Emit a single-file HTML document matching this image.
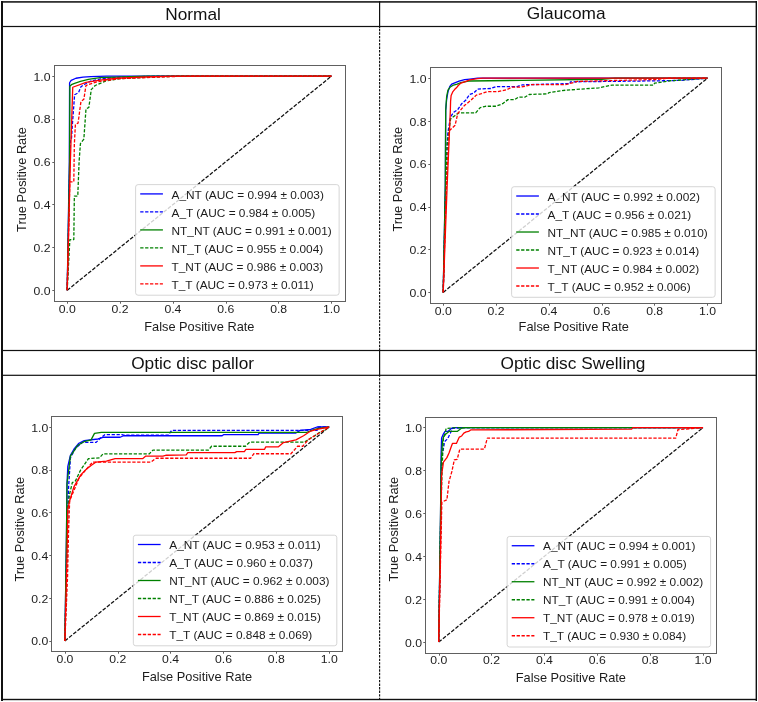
<!DOCTYPE html>
<html><head><meta charset="utf-8"><title>ROC curves</title>
<style>
html,body{margin:0;padding:0;background:#fff;width:758px;height:702px;overflow:hidden}
svg text{font-family:"Liberation Sans", sans-serif}
svg{will-change:transform;filter:blur(0.3px)}
</style></head><body>
<svg width="758" height="702" viewBox="0 0 758 702" style="position:absolute;left:0;top:0">
<rect width="758" height="702" fill="#fff"/>
<g><path d="M67.2 290.3L331.5 76.1" stroke="#111" stroke-width="1.25" stroke-dasharray="3.8 1.6" fill="none"/><path d="M67.2 290.3L69.31 161.78L69.58 82.74L71.16 80.38L75.92 78.24L83.06 77.17L90.72 76.53L106.84 76.1L331.5 76.1" stroke="#0000ff" stroke-width="1.3" fill="none" stroke-linejoin="round"/><path d="M67.2 290.3L69.84 161.78L70.37 140.36L71.43 139.07L72.49 123.22L74.6 94.74L78.56 92.59L80.94 86.81L84.38 84.45L90.72 81.03L100.77 78.88L120.06 77.17L159.7 76.1L331.5 76.1" stroke="#0000ff" stroke-width="1.3" stroke-dasharray="3.3 1.6" fill="none" stroke-linejoin="round"/><path d="M67.2 290.3L69.58 161.78L69.84 86.17L71.43 84.67L74.6 83.38L80.42 81.46L88.34 79.31L99.97 77.6L146.49 76.1L331.5 76.1" stroke="#008000" stroke-width="1.3" fill="none" stroke-linejoin="round"/><path d="M67.2 290.3L69.84 239.53L73.81 239.53L74.34 196.05L77.77 196.05L79.09 161.78L80.42 143.57L83.85 139.07L85.97 109.09L88.87 107.37L91.25 89.59L95.22 85.52L105.52 81.03L120.06 78.67L159.7 76.74L186.13 76.1L331.5 76.1" stroke="#008000" stroke-width="1.3" stroke-dasharray="3.3 1.6" fill="none" stroke-linejoin="round"/><path d="M67.2 290.3L70.37 161.78L72.75 87.24L85.97 82.31L102.09 79.96L116.89 78.24L146.49 76.96L172.92 76.1L331.5 76.1" stroke="#ff0000" stroke-width="1.3" fill="none" stroke-linejoin="round"/><path d="M67.2 290.3L69.84 181.91L73.81 181.91L74.34 144.64L75.39 124.3L78.04 123.22L80.94 101.59L83.85 99.23L85.97 85.52L90.72 83.81L97.59 81.67L120.06 78.67L172.92 76.53L199.35 76.1L331.5 76.1" stroke="#ff0000" stroke-width="1.3" stroke-dasharray="3.3 1.6" fill="none" stroke-linejoin="round"/><rect x="54.5" y="65.5" width="291" height="236" fill="none" stroke="#606060" stroke-width="1"/><path d="M67.5 301.5V303.7" stroke="#606060" stroke-width="1"/><path d="M54.5 290.5H52.3" stroke="#606060" stroke-width="1"/><text transform="translate(67.2 312.51) scale(1.075 1)" font-size="11.4" text-anchor="middle" fill="#1c1c1c">0.0</text><text transform="translate(50.59 294.8) scale(1.075 1)" font-size="11.4" text-anchor="end" fill="#1c1c1c">0.0</text><path d="M120.5 301.5V303.7" stroke="#606060" stroke-width="1"/><path d="M54.5 247.5H52.3" stroke="#606060" stroke-width="1"/><text transform="translate(120.06 312.51) scale(1.075 1)" font-size="11.4" text-anchor="middle" fill="#1c1c1c">0.2</text><text transform="translate(50.59 251.96) scale(1.075 1)" font-size="11.4" text-anchor="end" fill="#1c1c1c">0.2</text><path d="M173.5 301.5V303.7" stroke="#606060" stroke-width="1"/><path d="M54.5 204.5H52.3" stroke="#606060" stroke-width="1"/><text transform="translate(172.92 312.51) scale(1.075 1)" font-size="11.4" text-anchor="middle" fill="#1c1c1c">0.4</text><text transform="translate(50.59 209.12) scale(1.075 1)" font-size="11.4" text-anchor="end" fill="#1c1c1c">0.4</text><path d="M226.5 301.5V303.7" stroke="#606060" stroke-width="1"/><path d="M54.5 162.5H52.3" stroke="#606060" stroke-width="1"/><text transform="translate(225.78 312.51) scale(1.075 1)" font-size="11.4" text-anchor="middle" fill="#1c1c1c">0.6</text><text transform="translate(50.59 166.28) scale(1.075 1)" font-size="11.4" text-anchor="end" fill="#1c1c1c">0.6</text><path d="M278.5 301.5V303.7" stroke="#606060" stroke-width="1"/><path d="M54.5 119.5H52.3" stroke="#606060" stroke-width="1"/><text transform="translate(278.64 312.51) scale(1.075 1)" font-size="11.4" text-anchor="middle" fill="#1c1c1c">0.8</text><text transform="translate(50.59 123.44) scale(1.075 1)" font-size="11.4" text-anchor="end" fill="#1c1c1c">0.8</text><path d="M331.5 301.5V303.7" stroke="#606060" stroke-width="1"/><path d="M54.5 76.5H52.3" stroke="#606060" stroke-width="1"/><text transform="translate(331.5 312.51) scale(1.075 1)" font-size="11.4" text-anchor="middle" fill="#1c1c1c">1.0</text><text transform="translate(50.59 80.6) scale(1.075 1)" font-size="11.4" text-anchor="end" fill="#1c1c1c">1.0</text><text transform="translate(199.35 331.4) scale(1.05 1)" font-size="12.2" text-anchor="middle" fill="#1c1c1c">False Positive Rate</text><text transform="translate(25.98 179.5) rotate(-90) scale(1.05 1)" font-size="12.2" text-anchor="middle" fill="#1c1c1c">True Positive Rate</text><rect x="135.62" y="184.61" width="203.5" height="110.6" rx="2.5" fill="#fff" fill-opacity="0.8" stroke="#d0d0d0" stroke-width="0.9"/><path d="M140.22 193.91H162.92" stroke="#0000ff" stroke-width="1.3"/><text transform="translate(171.52 198.51) scale(1.06 1)" font-size="11.2" text-anchor="start" fill="#1c1c1c">A_NT (AUC = 0.994 ± 0.003)</text><path d="M140.22 211.91H162.92" stroke="#0000ff" stroke-width="1.3" stroke-dasharray="3.3 1.6"/><text transform="translate(171.52 216.51) scale(1.06 1)" font-size="11.2" text-anchor="start" fill="#1c1c1c">A_T (AUC = 0.984 ± 0.005)</text><path d="M140.22 229.91H162.92" stroke="#008000" stroke-width="1.3"/><text transform="translate(171.52 234.51) scale(1.06 1)" font-size="11.2" text-anchor="start" fill="#1c1c1c">NT_NT (AUC = 0.991 ± 0.001)</text><path d="M140.22 247.91H162.92" stroke="#008000" stroke-width="1.3" stroke-dasharray="3.3 1.6"/><text transform="translate(171.52 252.51) scale(1.06 1)" font-size="11.2" text-anchor="start" fill="#1c1c1c">NT_T (AUC = 0.955 ± 0.004)</text><path d="M140.22 265.91H162.92" stroke="#ff0000" stroke-width="1.3"/><text transform="translate(171.52 270.51) scale(1.06 1)" font-size="11.2" text-anchor="start" fill="#1c1c1c">T_NT (AUC = 0.986 ± 0.003)</text><path d="M140.22 283.91H162.92" stroke="#ff0000" stroke-width="1.3" stroke-dasharray="3.3 1.6"/><text transform="translate(171.52 288.51) scale(1.06 1)" font-size="11.2" text-anchor="start" fill="#1c1c1c">T_T (AUC = 0.973 ± 0.011)</text></g>
<g><path d="M443.2 292.4L707.5 78.2" stroke="#111" stroke-width="1.25" stroke-dasharray="3.8 1.6" fill="none"/><path d="M443.2 292.4L445.31 185.3L445.71 110.33L446.64 99.41L447.96 91.91L449.81 86.34L451.66 84.2L455.36 82.7L459.06 81.2L464.61 79.7L469.89 79.06L477.56 78.2L707.5 78.2" stroke="#0000ff" stroke-width="1.3" fill="none" stroke-linejoin="round"/><path d="M443.2 292.4L445.84 185.3L447.16 144.6L447.96 131.96L450.6 116.76L453.77 112.26L457.74 109.69L461.7 103.69L465.67 100.26L469.63 94.48L473.59 93.19L477.56 89.12L490.77 88.48L496.06 86.55L517.2 86.55L522.49 84.84L570.06 83.56L570.33 81.84L662.57 80.77L681.07 80.34L707.5 78.2" stroke="#0000ff" stroke-width="1.3" stroke-dasharray="3.3 1.6" fill="none" stroke-linejoin="round"/><path d="M443.2 292.4L445.31 185.3L445.71 110.33L446.64 96.62L447.96 90.2L450.34 86.98L453.51 85.05L457.21 84.2L460.91 82.7L464.61 81.84L469.89 80.98L522.49 80.34L601.78 79.27L615 78.2L707.5 78.2" stroke="#008000" stroke-width="1.3" fill="none" stroke-linejoin="round"/><path d="M443.2 292.4L445.84 185.3L447.16 143.96L450.6 118.9L455.09 115.47L458.53 112.9L475.71 112.9L480.2 107.55L485.49 106.26L496.06 106.26L502.67 103.69L507.95 99.62L514.56 99.62L518.53 97.05L525.13 97.05L529.1 94.48L547.86 93.84L548.92 92.55L565.57 90.2L598.87 87.84L612.09 85.05L653.58 85.05L654.64 83.13L669.97 80.77L707.5 78.2" stroke="#008000" stroke-width="1.3" stroke-dasharray="3.3 1.6" fill="none" stroke-linejoin="round"/><path d="M443.2 292.4L447.16 185.3L449.01 142.46L450.34 110.33L450.6 101.12L451.13 95.55L452.71 91.91L454.56 89.55L456.41 87.84L458.27 85.48L460.91 83.13L464.61 81.84L469.89 79.91L477.56 78.63L482.84 78.2L707.5 78.2" stroke="#ff0000" stroke-width="1.3" fill="none" stroke-linejoin="round"/><path d="M443.2 292.4L446.37 185.3L448.49 143.96L449.28 130.68L455.09 125.32L457.74 113.54L464.34 105.62L470.95 100.26L476.24 95.12L481.52 93.62L486.81 91.69L497.38 91.69L506.63 89.77L511.92 87.2L519.85 87.2L527.78 85.7L530.42 84.63L565.57 84.63L577.46 81.41L655.96 79.49L667.86 78.2L707.5 78.2" stroke="#ff0000" stroke-width="1.3" stroke-dasharray="3.3 1.6" fill="none" stroke-linejoin="round"/><rect x="430.5" y="67.5" width="291" height="236" fill="none" stroke="#606060" stroke-width="1"/><path d="M443.5 303.5V305.7" stroke="#606060" stroke-width="1"/><path d="M430.5 292.5H428.3" stroke="#606060" stroke-width="1"/><text transform="translate(443.2 314.61) scale(1.075 1)" font-size="11.4" text-anchor="middle" fill="#1c1c1c">0.0</text><text transform="translate(426.59 296.9) scale(1.075 1)" font-size="11.4" text-anchor="end" fill="#1c1c1c">0.0</text><path d="M496.5 303.5V305.7" stroke="#606060" stroke-width="1"/><path d="M430.5 249.5H428.3" stroke="#606060" stroke-width="1"/><text transform="translate(496.06 314.61) scale(1.075 1)" font-size="11.4" text-anchor="middle" fill="#1c1c1c">0.2</text><text transform="translate(426.59 254.06) scale(1.075 1)" font-size="11.4" text-anchor="end" fill="#1c1c1c">0.2</text><path d="M549.5 303.5V305.7" stroke="#606060" stroke-width="1"/><path d="M430.5 207.5H428.3" stroke="#606060" stroke-width="1"/><text transform="translate(548.92 314.61) scale(1.075 1)" font-size="11.4" text-anchor="middle" fill="#1c1c1c">0.4</text><text transform="translate(426.59 211.22) scale(1.075 1)" font-size="11.4" text-anchor="end" fill="#1c1c1c">0.4</text><path d="M602.5 303.5V305.7" stroke="#606060" stroke-width="1"/><path d="M430.5 164.5H428.3" stroke="#606060" stroke-width="1"/><text transform="translate(601.78 314.61) scale(1.075 1)" font-size="11.4" text-anchor="middle" fill="#1c1c1c">0.6</text><text transform="translate(426.59 168.38) scale(1.075 1)" font-size="11.4" text-anchor="end" fill="#1c1c1c">0.6</text><path d="M654.5 303.5V305.7" stroke="#606060" stroke-width="1"/><path d="M430.5 121.5H428.3" stroke="#606060" stroke-width="1"/><text transform="translate(654.64 314.61) scale(1.075 1)" font-size="11.4" text-anchor="middle" fill="#1c1c1c">0.8</text><text transform="translate(426.59 125.54) scale(1.075 1)" font-size="11.4" text-anchor="end" fill="#1c1c1c">0.8</text><path d="M707.5 303.5V305.7" stroke="#606060" stroke-width="1"/><path d="M430.5 78.5H428.3" stroke="#606060" stroke-width="1"/><text transform="translate(707.5 314.61) scale(1.075 1)" font-size="11.4" text-anchor="middle" fill="#1c1c1c">1.0</text><text transform="translate(426.59 82.7) scale(1.075 1)" font-size="11.4" text-anchor="end" fill="#1c1c1c">1.0</text><text transform="translate(573.75 331.3) scale(1.05 1)" font-size="12.2" text-anchor="middle" fill="#1c1c1c">False Positive Rate</text><text transform="translate(402.29 179.2) rotate(-90) scale(1.05 1)" font-size="12.2" text-anchor="middle" fill="#1c1c1c">True Positive Rate</text><rect x="511.62" y="186.71" width="203.5" height="110.6" rx="2.5" fill="#fff" fill-opacity="0.8" stroke="#d0d0d0" stroke-width="0.9"/><path d="M516.22 196.01H538.91" stroke="#0000ff" stroke-width="1.3"/><text transform="translate(547.51 200.61) scale(1.06 1)" font-size="11.2" text-anchor="start" fill="#1c1c1c">A_NT (AUC = 0.992 ± 0.002)</text><path d="M516.22 214.01H538.91" stroke="#0000ff" stroke-width="1.3" stroke-dasharray="3.3 1.6"/><text transform="translate(547.51 218.61) scale(1.06 1)" font-size="11.2" text-anchor="start" fill="#1c1c1c">A_T (AUC = 0.956 ± 0.021)</text><path d="M516.22 232.01H538.91" stroke="#008000" stroke-width="1.3"/><text transform="translate(547.51 236.61) scale(1.06 1)" font-size="11.2" text-anchor="start" fill="#1c1c1c">NT_NT (AUC = 0.985 ± 0.010)</text><path d="M516.22 250.01H538.91" stroke="#008000" stroke-width="1.3" stroke-dasharray="3.3 1.6"/><text transform="translate(547.51 254.61) scale(1.06 1)" font-size="11.2" text-anchor="start" fill="#1c1c1c">NT_T (AUC = 0.923 ± 0.014)</text><path d="M516.22 268.01H538.91" stroke="#ff0000" stroke-width="1.3"/><text transform="translate(547.51 272.61) scale(1.06 1)" font-size="11.2" text-anchor="start" fill="#1c1c1c">T_NT (AUC = 0.984 ± 0.002)</text><path d="M516.22 286.01H538.91" stroke="#ff0000" stroke-width="1.3" stroke-dasharray="3.3 1.6"/><text transform="translate(547.51 290.61) scale(1.06 1)" font-size="11.2" text-anchor="start" fill="#1c1c1c">T_T (AUC = 0.952 ± 0.006)</text></g>
<g><path d="M64.9 640.9L329.2 427" stroke="#111" stroke-width="1.25" stroke-dasharray="3.8 1.6" fill="none"/><path d="M64.9 640.9L66.49 533.95L67.01 483.47L67.81 466.36L70.45 455.23L73.89 449.25L78.91 443.26L84.19 440.69L97.94 438.98L102.96 437.27L120.14 437.27L123.57 435.77L222.16 435.77L223.48 434.7L258.1 434.7L259.16 432.99L295.9 432.99L300.13 430.42L310.7 429.35L317.04 427L329.2 427" stroke="#0000ff" stroke-width="1.3" fill="none" stroke-linejoin="round"/><path d="M64.9 640.9L67.01 533.95L68.6 486.89L70.45 457.8L75.47 448.39L82.34 442.4L96.09 442.4L99.52 438.98L104.81 434.7L121.99 434.7L123.57 435.13L168.24 435.13L171.68 430.42L317.04 430.42L318.63 427L329.2 427" stroke="#0000ff" stroke-width="1.3" stroke-dasharray="3.3 1.6" fill="none" stroke-linejoin="round"/><path d="M64.9 640.9L66.49 533.95L67.01 483.47L70.45 456.09L77.32 445.82L84.19 441.55L91.07 439.83L94.5 433.42L101.37 432.35L306.73 432.35L314.66 429.35L318.63 428.28L329.2 427" stroke="#008000" stroke-width="1.3" fill="none" stroke-linejoin="round"/><path d="M64.9 640.9L67.01 555.34L67.81 507.43L69.66 493.74L72.3 482.61L75.47 480.9L80.76 469.78L88.42 458.66L99.52 457.8L102.96 453.95L149.21 453.95L152.91 450.1L208.41 450.1L211.59 446.25L245.42 446.25L249.65 442.19L304.36 442.19L308.06 439.83L314.66 435.77L318.63 432.99L323.91 430.42L329.2 427" stroke="#008000" stroke-width="1.3" stroke-dasharray="3.3 1.6" fill="none" stroke-linejoin="round"/><path d="M64.9 640.9L67.01 555.34L67.81 509.14L69.66 500.8L73.89 486.89L80.76 474.91L85.78 469.78L91.07 465.5L96.09 462.08L106.4 461.22L115.12 458.66L142.6 458.66L145.78 456.09L162.96 456.09L166.39 455.23L186.21 454.81L187.8 452.67L234.84 452.67L236.7 451.6L244.36 451.6L245.95 449.46L264.45 449.46L265.77 446.89L278.19 446.89L283.48 442.61L295.9 439.83L303.56 435.77L309.91 431.49L317.04 429.35L329.2 427" stroke="#ff0000" stroke-width="1.3" fill="none" stroke-linejoin="round"/><path d="M64.9 640.9L67.54 576.73L68.6 529.89L69.66 500.8L73.89 490.53L78.91 478.34L85.78 469.78L92.65 462.08L151.06 462.08L156.08 458.23L250.7 458.23L253.87 453.74L290.88 453.74L294.84 449.46L297.48 446.25L302.77 446.25L308.06 439.83L314.66 435.77L319.95 432.56L329.2 427" stroke="#ff0000" stroke-width="1.3" stroke-dasharray="3.3 1.6" fill="none" stroke-linejoin="round"/><rect x="51.5" y="416.5" width="291" height="235" fill="none" stroke="#606060" stroke-width="1"/><path d="M65.5 651.5V653.7" stroke="#606060" stroke-width="1"/><path d="M51.5 641.5H49.3" stroke="#606060" stroke-width="1"/><text transform="translate(64.9 663.1) scale(1.075 1)" font-size="11.4" text-anchor="middle" fill="#1c1c1c">0.0</text><text transform="translate(48.29 645.4) scale(1.075 1)" font-size="11.4" text-anchor="end" fill="#1c1c1c">0.0</text><path d="M118.5 651.5V653.7" stroke="#606060" stroke-width="1"/><path d="M51.5 598.5H49.3" stroke="#606060" stroke-width="1"/><text transform="translate(117.76 663.1) scale(1.075 1)" font-size="11.4" text-anchor="middle" fill="#1c1c1c">0.2</text><text transform="translate(48.29 602.62) scale(1.075 1)" font-size="11.4" text-anchor="end" fill="#1c1c1c">0.2</text><path d="M170.5 651.5V653.7" stroke="#606060" stroke-width="1"/><path d="M51.5 555.5H49.3" stroke="#606060" stroke-width="1"/><text transform="translate(170.62 663.1) scale(1.075 1)" font-size="11.4" text-anchor="middle" fill="#1c1c1c">0.4</text><text transform="translate(48.29 559.84) scale(1.075 1)" font-size="11.4" text-anchor="end" fill="#1c1c1c">0.4</text><path d="M223.5 651.5V653.7" stroke="#606060" stroke-width="1"/><path d="M51.5 512.5H49.3" stroke="#606060" stroke-width="1"/><text transform="translate(223.48 663.1) scale(1.075 1)" font-size="11.4" text-anchor="middle" fill="#1c1c1c">0.6</text><text transform="translate(48.29 517.06) scale(1.075 1)" font-size="11.4" text-anchor="end" fill="#1c1c1c">0.6</text><path d="M276.5 651.5V653.7" stroke="#606060" stroke-width="1"/><path d="M51.5 470.5H49.3" stroke="#606060" stroke-width="1"/><text transform="translate(276.34 663.1) scale(1.075 1)" font-size="11.4" text-anchor="middle" fill="#1c1c1c">0.8</text><text transform="translate(48.29 474.28) scale(1.075 1)" font-size="11.4" text-anchor="end" fill="#1c1c1c">0.8</text><path d="M329.5 651.5V653.7" stroke="#606060" stroke-width="1"/><path d="M51.5 427.5H49.3" stroke="#606060" stroke-width="1"/><text transform="translate(329.2 663.1) scale(1.075 1)" font-size="11.4" text-anchor="middle" fill="#1c1c1c">1.0</text><text transform="translate(48.29 431.5) scale(1.075 1)" font-size="11.4" text-anchor="end" fill="#1c1c1c">1.0</text><text transform="translate(197.05 681.4) scale(1.05 1)" font-size="12.2" text-anchor="middle" fill="#1c1c1c">False Positive Rate</text><text transform="translate(24.09 529.2) rotate(-90) scale(1.05 1)" font-size="12.2" text-anchor="middle" fill="#1c1c1c">True Positive Rate</text><rect x="133.32" y="535.2" width="203.5" height="110.6" rx="2.5" fill="#fff" fill-opacity="0.8" stroke="#d0d0d0" stroke-width="0.9"/><path d="M137.92 544.5H160.62" stroke="#0000ff" stroke-width="1.3"/><text transform="translate(169.22 549.1) scale(1.06 1)" font-size="11.2" text-anchor="start" fill="#1c1c1c">A_NT (AUC = 0.953 ± 0.011)</text><path d="M137.92 562.5H160.62" stroke="#0000ff" stroke-width="1.3" stroke-dasharray="3.3 1.6"/><text transform="translate(169.22 567.1) scale(1.06 1)" font-size="11.2" text-anchor="start" fill="#1c1c1c">A_T (AUC = 0.960 ± 0.037)</text><path d="M137.92 580.5H160.62" stroke="#008000" stroke-width="1.3"/><text transform="translate(169.22 585.1) scale(1.06 1)" font-size="11.2" text-anchor="start" fill="#1c1c1c">NT_NT (AUC = 0.962 ± 0.003)</text><path d="M137.92 598.5H160.62" stroke="#008000" stroke-width="1.3" stroke-dasharray="3.3 1.6"/><text transform="translate(169.22 603.1) scale(1.06 1)" font-size="11.2" text-anchor="start" fill="#1c1c1c">NT_T (AUC = 0.886 ± 0.025)</text><path d="M137.92 616.5H160.62" stroke="#ff0000" stroke-width="1.3"/><text transform="translate(169.22 621.1) scale(1.06 1)" font-size="11.2" text-anchor="start" fill="#1c1c1c">T_NT (AUC = 0.869 ± 0.015)</text><path d="M137.92 634.5H160.62" stroke="#ff0000" stroke-width="1.3" stroke-dasharray="3.3 1.6"/><text transform="translate(169.22 639.1) scale(1.06 1)" font-size="11.2" text-anchor="start" fill="#1c1c1c">T_T (AUC = 0.848 ± 0.069)</text></g>
<g><path d="M438.7 642.1L703 427.6" stroke="#111" stroke-width="1.25" stroke-dasharray="3.8 1.6" fill="none"/><path d="M438.7 642.1L440.55 513.4L441.08 454.2L441.61 438.11L443.46 433.82L445.04 431.46L447.95 431.46L451.91 428.03L454.56 427.6L703 427.6" stroke="#0000ff" stroke-width="1.3" fill="none" stroke-linejoin="round"/><path d="M438.7 642.1L440.81 513.4L441.61 457.63L443.46 448.41L444.51 441.76L446.89 439.4L448.48 437.04L450.33 433.18L452.44 428.46L461.69 427.6L703 427.6" stroke="#0000ff" stroke-width="1.3" stroke-dasharray="3.3 1.6" fill="none" stroke-linejoin="round"/><path d="M438.7 642.1L440.55 513.4L441.08 465.57L442.4 442.83L443.46 437.04L445.57 434.25L449.01 431.46L457.2 431.46L461.69 428.03L465.13 427.6L703 427.6" stroke="#008000" stroke-width="1.3" fill="none" stroke-linejoin="round"/><path d="M438.7 642.1L440.81 513.4L442.4 461.06L442.93 448.41L443.46 437.04L445.04 433.82L446.1 428.46L451.39 428.03L454.56 427.6L703 427.6" stroke="#008000" stroke-width="1.3" stroke-dasharray="3.3 1.6" fill="none" stroke-linejoin="round"/><path d="M438.7 642.1L440.81 534.85L441.61 474.79L443.46 462.13L446.89 457.63L449.01 452.91L451.39 446.26L452.44 443.47L456.41 443.47L459.32 437.04L461.69 435.97L463.81 433.18L466.19 431.89L468.57 431.46L470.68 429.96L631.64 429.1L632.96 427.6L703 427.6" stroke="#ff0000" stroke-width="1.3" fill="none" stroke-linejoin="round"/><path d="M438.7 642.1L441.08 534.85L441.87 502.03L446.89 499.89L449.01 481.44L451.91 471.36L454.29 459.99L457.2 459.35L459.84 449.05L484.42 449.05L487.33 438.11L675.78 438.11L677.89 429.75L703 427.6" stroke="#ff0000" stroke-width="1.3" stroke-dasharray="3.3 1.6" fill="none" stroke-linejoin="round"/><rect x="425.5" y="417.5" width="291" height="236" fill="none" stroke="#606060" stroke-width="1"/><path d="M439.5 653.5V655.7" stroke="#606060" stroke-width="1"/><path d="M425.5 642.5H423.3" stroke="#606060" stroke-width="1"/><text transform="translate(438.7 664.33) scale(1.075 1)" font-size="11.4" text-anchor="middle" fill="#1c1c1c">0.0</text><text transform="translate(422.09 646.6) scale(1.075 1)" font-size="11.4" text-anchor="end" fill="#1c1c1c">0.0</text><path d="M491.5 653.5V655.7" stroke="#606060" stroke-width="1"/><path d="M425.5 599.5H423.3" stroke="#606060" stroke-width="1"/><text transform="translate(491.56 664.33) scale(1.075 1)" font-size="11.4" text-anchor="middle" fill="#1c1c1c">0.2</text><text transform="translate(422.09 603.7) scale(1.075 1)" font-size="11.4" text-anchor="end" fill="#1c1c1c">0.2</text><path d="M544.5 653.5V655.7" stroke="#606060" stroke-width="1"/><path d="M425.5 556.5H423.3" stroke="#606060" stroke-width="1"/><text transform="translate(544.42 664.33) scale(1.075 1)" font-size="11.4" text-anchor="middle" fill="#1c1c1c">0.4</text><text transform="translate(422.09 560.8) scale(1.075 1)" font-size="11.4" text-anchor="end" fill="#1c1c1c">0.4</text><path d="M597.5 653.5V655.7" stroke="#606060" stroke-width="1"/><path d="M425.5 513.5H423.3" stroke="#606060" stroke-width="1"/><text transform="translate(597.28 664.33) scale(1.075 1)" font-size="11.4" text-anchor="middle" fill="#1c1c1c">0.6</text><text transform="translate(422.09 517.9) scale(1.075 1)" font-size="11.4" text-anchor="end" fill="#1c1c1c">0.6</text><path d="M650.5 653.5V655.7" stroke="#606060" stroke-width="1"/><path d="M425.5 470.5H423.3" stroke="#606060" stroke-width="1"/><text transform="translate(650.14 664.33) scale(1.075 1)" font-size="11.4" text-anchor="middle" fill="#1c1c1c">0.8</text><text transform="translate(422.09 475) scale(1.075 1)" font-size="11.4" text-anchor="end" fill="#1c1c1c">0.8</text><path d="M703.5 653.5V655.7" stroke="#606060" stroke-width="1"/><path d="M425.5 427.5H423.3" stroke="#606060" stroke-width="1"/><text transform="translate(703 664.33) scale(1.075 1)" font-size="11.4" text-anchor="middle" fill="#1c1c1c">1.0</text><text transform="translate(422.09 432.1) scale(1.075 1)" font-size="11.4" text-anchor="end" fill="#1c1c1c">1.0</text><text transform="translate(570.85 681.5) scale(1.05 1)" font-size="12.2" text-anchor="middle" fill="#1c1c1c">False Positive Rate</text><text transform="translate(397.79 529.2) rotate(-90) scale(1.05 1)" font-size="12.2" text-anchor="middle" fill="#1c1c1c">True Positive Rate</text><rect x="507.12" y="536.43" width="203.5" height="110.6" rx="2.5" fill="#fff" fill-opacity="0.8" stroke="#d0d0d0" stroke-width="0.9"/><path d="M511.72 545.73H534.41" stroke="#0000ff" stroke-width="1.3"/><text transform="translate(543.01 550.33) scale(1.06 1)" font-size="11.2" text-anchor="start" fill="#1c1c1c">A_NT (AUC = 0.994 ± 0.001)</text><path d="M511.72 563.73H534.41" stroke="#0000ff" stroke-width="1.3" stroke-dasharray="3.3 1.6"/><text transform="translate(543.01 568.33) scale(1.06 1)" font-size="11.2" text-anchor="start" fill="#1c1c1c">A_T (AUC = 0.991 ± 0.005)</text><path d="M511.72 581.73H534.41" stroke="#008000" stroke-width="1.3"/><text transform="translate(543.01 586.33) scale(1.06 1)" font-size="11.2" text-anchor="start" fill="#1c1c1c">NT_NT (AUC = 0.992 ± 0.002)</text><path d="M511.72 599.73H534.41" stroke="#008000" stroke-width="1.3" stroke-dasharray="3.3 1.6"/><text transform="translate(543.01 604.33) scale(1.06 1)" font-size="11.2" text-anchor="start" fill="#1c1c1c">NT_T (AUC = 0.991 ± 0.004)</text><path d="M511.72 617.73H534.41" stroke="#ff0000" stroke-width="1.3"/><text transform="translate(543.01 622.33) scale(1.06 1)" font-size="11.2" text-anchor="start" fill="#1c1c1c">T_NT (AUC = 0.978 ± 0.019)</text><path d="M511.72 635.73H534.41" stroke="#ff0000" stroke-width="1.3" stroke-dasharray="3.3 1.6"/><text transform="translate(543.01 640.33) scale(1.06 1)" font-size="11.2" text-anchor="start" fill="#1c1c1c">T_T (AUC = 0.930 ± 0.084)</text></g>
<g fill="#111">
<rect x="1" y="1" width="756" height="1.8" fill="#333"/>
<rect x="1" y="1" width="2" height="700"/>
<rect x="755.6" y="1" width="1.4" height="700"/>
<rect x="1" y="698.8" width="756" height="1.4"/>
<rect x="1" y="25.9" width="756" height="1.2"/>
<rect x="1" y="349.9" width="756" height="1.2"/>
<rect x="1" y="374.7" width="756" height="1.2"/>
<rect x="379" y="1" width="1.2" height="27.2"/>
<rect x="379" y="350" width="1.2" height="26.8"/>
</g>
<path d="M379.6 28.8V350" stroke="#111" stroke-width="1.15" stroke-dasharray="2.4 1.15"/>
<path d="M379.6 378.2V699" stroke="#111" stroke-width="1.15" stroke-dasharray="2.4 1.15"/>
<text transform="translate(193 19.6) scale(1.08 1)" font-size="16" text-anchor="middle" fill="#111">Normal</text>
<text transform="translate(566.2 19.4) scale(1.08 1)" font-size="16" text-anchor="middle" fill="#111">Glaucoma</text>
<text transform="translate(192.6 368.7) scale(1.08 1)" font-size="16" text-anchor="middle" fill="#111">Optic disc pallor</text>
<text transform="translate(573 368.7) scale(1.08 1)" font-size="16" text-anchor="middle" fill="#111">Optic disc Swelling</text>
</svg>
</body></html>
